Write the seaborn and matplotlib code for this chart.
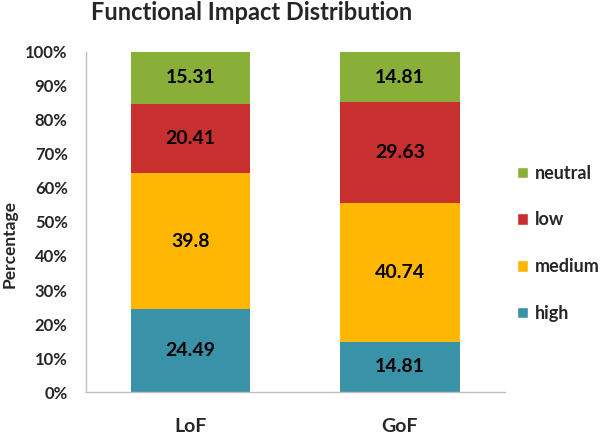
import numpy as np
import pandas as pd
import seaborn as sns
import matplotlib.pyplot as plt
from matplotlib.patches import Patch
from matplotlib.ticker import PercentFormatter

# Data
groups = ['LoF', 'GoF']
levels = ['high', 'medium', 'low', 'neutral']
high = [24.49, 14.81]
medium = [39.8, 40.74]
low = [20.41, 29.63]
neutral = [15.31, 14.81]
colors = {'high': '#3A92A8', 'medium': '#FFB703', 'low': '#C8302F', 'neutral': '#8AAF38'}

sns.set_style('white')
plt.rcParams['font.family'] = ['Lato', 'DejaVu Sans']
plt.rcParams['font.weight'] = 'bold'

values = {'high': high, 'medium': medium, 'low': low, 'neutral': neutral}

fig = plt.figure(figsize=(6, 4.4), dpi=100)
ax = fig.add_axes([0.143, 0.109, 0.698, 0.773])

bottom = np.zeros(len(groups))
for lvl in levels:
    df = pd.DataFrame({'group': groups, 'value': values[lvl]})
    sns.barplot(data=df, x='group', y='value', color=colors[lvl], bottom=bottom,
                width=0.57, ax=ax, saturation=1, linewidth=0)
    for i, v in enumerate(values[lvl]):
        ax.text(i, bottom[i] + v / 2, f'{v:g}', ha='center', va='center',
                fontsize=14, fontweight='bold', color='black')
    bottom += np.array(values[lvl])

ax.set_ylim(0, 100)
ax.set_xlim(-0.5, 1.5)
ax.set_yticks(np.arange(0, 101, 10))
ax.yaxis.set_major_formatter(PercentFormatter(decimals=0))
ax.tick_params(axis='y', labelsize=12, pad=13, length=0)
ax.tick_params(axis='x', labelsize=14, pad=19, length=0)
for lab in ax.get_xticklabels() + ax.get_yticklabels():
    lab.set_fontweight('bold')
ax.set_xlabel('')
ax.set_ylabel('Percentage', fontsize=12.5, fontweight='bold')
ax.yaxis.set_label_coords(-0.163, 0.435)
fig.text(0.42, 1 - 13 / 440, 'Functional Impact Distribution', ha='center', va='center',
         fontsize=17, fontweight='bold')

for s in ['top', 'right']:
    ax.spines[s].set_visible(False)
for s in ['left', 'bottom']:
    ax.spines[s].set_color('#BFBFBF')
    ax.spines[s].set_linewidth(1)

handles = [Patch(facecolor=colors[l], label=l) for l in reversed(levels)]
leg = fig.legend(handles=handles, loc='center left', bbox_to_anchor=(0.835, 0.447),
                 frameon=False, fontsize=13, handlelength=0.6, handleheight=0.6,
                 labelspacing=1.65, handletextpad=0.35)
for t in leg.get_texts():
    t.set_fontweight('bold')

fig.savefig('out.png', dpi=100)
